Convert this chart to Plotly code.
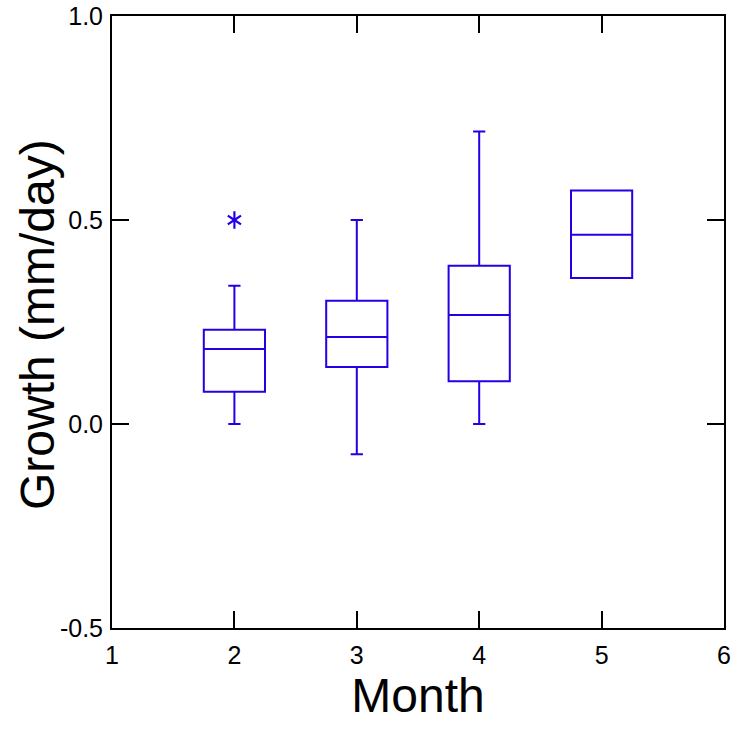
import plotly.graph_objects as go

months = [2, 3, 4, 5]
lower_whisker = [0.0, -0.074, 0.0, 0.358]
q1 = [0.079, 0.140, 0.105, 0.358]
median = [0.184, 0.213, 0.267, 0.464]
q3 = [0.231, 0.302, 0.388, 0.572]
upper_whisker = [0.339, 0.500, 0.717, 0.572]
outlier_month = [2]
outlier_value = [0.50]

blue = "#2400e6"
font_family = "Liberation Sans, Arial, sans-serif"

fig = go.Figure()
fig.add_trace(go.Box(
    x=months, q1=q1, median=median, q3=q3,
    lowerfence=lower_whisker, upperfence=upper_whisker,
    width=0.5, whiskerwidth=0.2,
    fillcolor="rgba(0,0,0,0)",
    line=dict(color=blue, width=2),
    boxpoints=False, showlegend=False, hoverinfo="skip",
))
for sym in ["y-up-open", "y-down-open"]:
    fig.add_trace(go.Scatter(
        x=outlier_month, y=outlier_value, mode="markers",
        marker=dict(symbol=sym, size=11, color=blue,
                    line=dict(color=blue, width=2.2)),
        showlegend=False, hoverinfo="skip",
    ))

axis_common = dict(
    showgrid=False, zeroline=False, showline=True, linecolor="black",
    linewidth=2, mirror="ticks", ticks="inside", ticklen=17,
    tickwidth=2, tickcolor="black", automargin=False,
    ticklabeloverflow="allow",
    tickfont=dict(family=font_family, size=25, color="black"),
)
fig.update_xaxes(range=[1, 6], tickvals=[1, 2, 3, 4, 5, 6],
                 ticklabelstandoff=4,
                 title=dict(text="Month", font=dict(family=font_family, size=48, color="black"), standoff=6),
                 **axis_common)
fig.update_yaxes(range=[-0.5, 1.0], tickvals=[-0.5, 0.0, 0.5, 1.0],
                 ticktext=["-0.5", "0.0", "0.5", "1.0"],
                 ticklabelstandoff=2,
                 **axis_common)
fig.add_annotation(text="Growth (mm/day)", textangle=-90,
                   xref="paper", yref="paper", x=0, y=0.5,
                   xanchor="center", yanchor="middle", xshift=-75, yshift=-3,
                   showarrow=False,
                   font=dict(family=font_family, size=48, color="black"))
fig.update_layout(
    width=735, height=729,
    margin=dict(l=112, r=11, t=16, b=101),
    plot_bgcolor="white", paper_bgcolor="white",
)
fig.write_html("out.html", config={"displayModeBar": False},
               post_script="document.body.style.margin='0';document.body.style.overflow='hidden';")
